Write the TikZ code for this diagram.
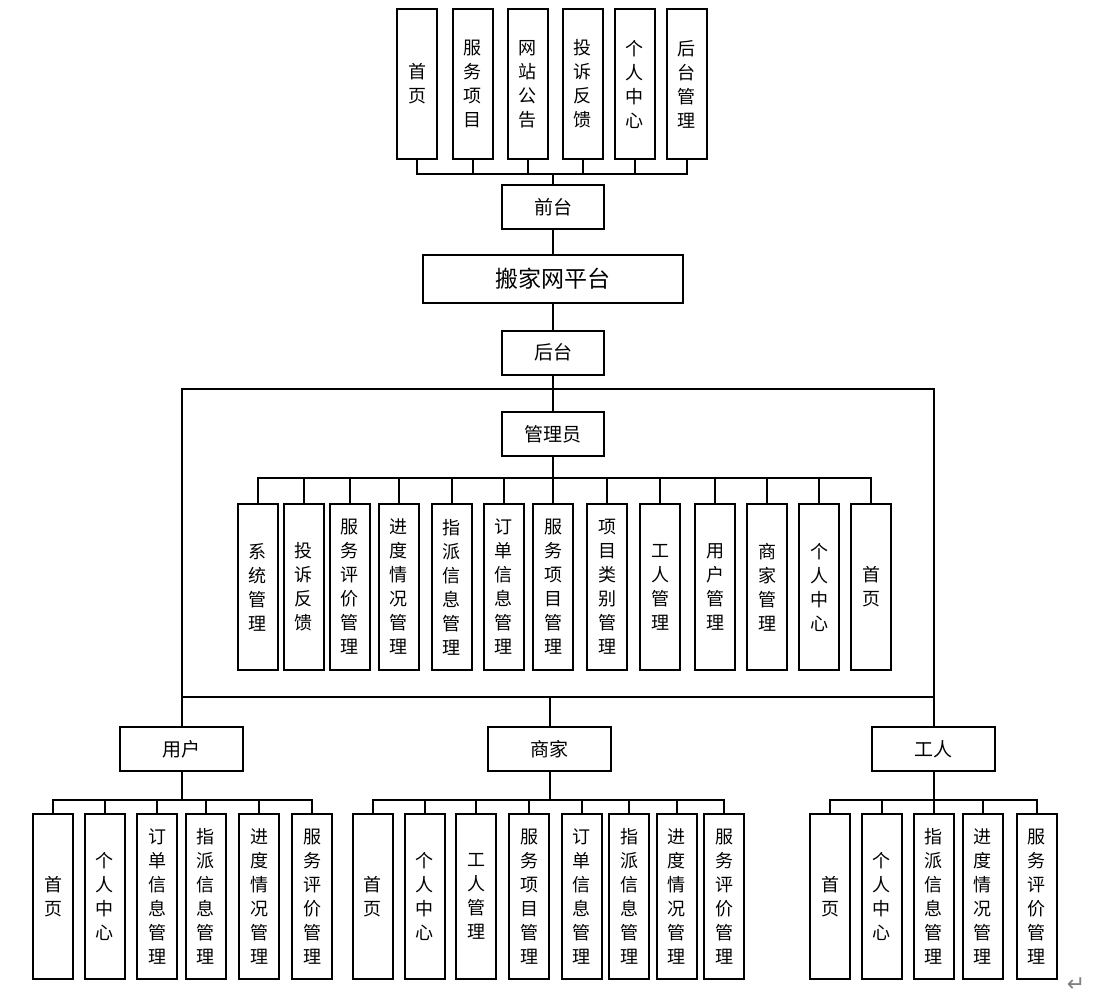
\documentclass[tikz,border=0pt]{standalone}
\usepackage{fontspec}
\setmainfont{Noto Sans CJK SC}
\newfontfamily\symfont{DejaVu Sans}
\usetikzlibrary{positioning}
\tikzstyle{box}=[draw, line width=2pt, fill=white, inner sep=0pt, align=center, font=\fontsize{18}{24}\selectfont]
\tikzstyle{mid}=[box, minimum width=102pt, minimum height=44pt, font=\fontsize{19}{24}\selectfont]
\tikzstyle{role}=[box, minimum width=123pt, minimum height=44pt, font=\fontsize{19}{24}\selectfont]
\tikzstyle{col}=[box, minimum width=40pt]

\begin{document}
\begin{tikzpicture}[x=1pt,y=-1pt,line width=2pt]
\useasboundingbox (0,0) rectangle (1113,999);

% platform
\node[mid] (qt) at (553,207) {前台};
\node[box, minimum width=260pt, minimum height=48pt, font=\fontsize{23}{26}\selectfont] (pt) at (553,279) {搬家网平台};
\node[mid] (ht) at (553,352.5) {后台};
\draw (qt) -- (pt);
\draw (pt) -- (ht);

% front pages
\foreach \x/\t [count=\i] in {417/首\\页, 472.5/服\\务\\项\\目, 527.5/网\\站\\公\\告, 582.5/投\\诉\\反\\馈, 634.5/个\\人\\中\\心, 686.5/后\\台\\管\\理}
{
    \node[col, minimum height=150pt] (f\i) at (\x,84) {\t};
    \draw (f\i.south) -- ++(0,14) -| (qt.north);
}

% back end
\coordinate (tl) at (182,389);
\coordinate (br) at (934,697);
\draw (tl) rectangle (br);
\node[mid] (gly) at (553,434) {管理员};
\draw (ht) -- (gly);

\foreach \x/\t [count=\i] in {257.5/系\\统\\管\\理, 303.5/投\\诉\\反\\馈, 349.5/服\\务\\评\\价\\管\\理, 398.5/进\\度\\情\\况\\管\\理, 451.5/指\\派\\信\\息\\管\\理, 503.5/订\\单\\信\\息\\管\\理, 553/服\\务\\项\\目\\管\\理, 607/项\\目\\类\\别\\管\\理, 660/工\\人\\管\\理, 715/用\\户\\管\\理, 767/商\\家\\管\\理, 819/个\\人\\中\\心, 871/首\\页}
{
    \node[col, minimum height=166pt] (a\i) at (\x,587) {\t};
    \draw (a\i.north) -- ++(0,-25) -| (gly.south);
}

% roles
\node[role] (yh) at (181.5,749) {用户};
\node[role] (sj) at (549.5,749) {商家};
\node[role] (gr) at (933.5,749) {工人};
\draw (yh.north) -- (yh.north |- br);
\draw (sj.north) -- (sj.north |- br);
\draw (gr.north) -- (gr.north |- br);

\foreach \x/\t [count=\i] in {53/首\\页, 104.5/个\\人\\中\\心, 157/订\\单\\信\\息\\管\\理, 205.5/指\\派\\信\\息\\管\\理, 259/进\\度\\情\\况\\管\\理, 312/服\\务\\评\\价\\管\\理}
{
    \node[col, minimum height=165pt] (u\i) at (\x,896.5) {\t};
    \draw (u\i.north) -- ++(0,-13) -| (yh.south);
}

\foreach \x/\t [count=\i] in {372.5/首\\页, 424.5/个\\人\\中\\心, 476/工\\人\\管\\理, 529/服\\务\\项\\目\\管\\理, 581.5/订\\单\\信\\息\\管\\理, 629/指\\派\\信\\息\\管\\理, 676.5/进\\度\\情\\况\\管\\理, 724/服\\务\\评\\价\\管\\理}
{
    \node[col, minimum height=165pt] (s\i) at (\x,896.5) {\t};
    \draw (s\i.north) -- ++(0,-13) -| (sj.south);
}

\foreach \x/\t [count=\i] in {830/首\\页, 881.5/个\\人\\中\\心, 933.5/指\\派\\信\\息\\管\\理, 982.5/进\\度\\情\\况\\管\\理, 1036.5/服\\务\\评\\价\\管\\理}
{
    \node[col, minimum height=165pt] (w\i) at (\x,896.5) {\t};
    \draw (w\i.north) -- ++(0,-13) -| (gr.south);
}

\node[text=gray, font=\symfont\fontsize{22}{22}\selectfont] (ret) at (1076,985) {↵};

\end{tikzpicture}
\end{document}
